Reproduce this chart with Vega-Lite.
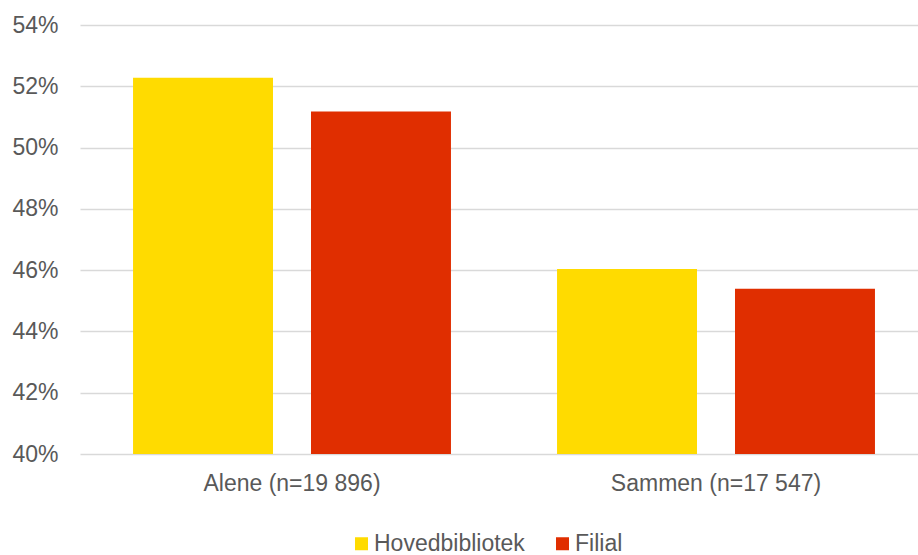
{
  "$schema": "https://vega.github.io/schema/vega-lite/v6.json",
  "width": 848,
  "height": 429,
  "autosize": {"type": "none"},
  "padding": {"left": 80, "top": 25, "right": -10, "bottom": 101},
  "background": "white",
  "config": {
    "font": "Liberation Sans",
    "view": {"stroke": null}
  },
  "data": {
    "values": [
      {"gruppe": "Alene (n=19 896)", "type": "Hovedbibliotek", "andel": 0.5228},
      {"gruppe": "Alene (n=19 896)", "type": "Filial", "andel": 0.5118},
      {"gruppe": "Sammen (n=17 547)", "type": "Hovedbibliotek", "andel": 0.4604},
      {"gruppe": "Sammen (n=17 547)", "type": "Filial", "andel": 0.4539}
    ]
  },
  "mark": {"type": "bar", "clip": true},
  "encoding": {
    "x": {
      "field": "gruppe",
      "type": "nominal",
      "sort": null,
      "scale": {"paddingInner": 0, "paddingOuter": 0},
      "axis": {
        "title": null,
        "labelAngle": 0,
        "labelFontSize": 23,
        "labelLimit": 0,
        "labelColor": "#595959",
        "labelPadding": 18,
        "domain": false,
        "ticks": false
      }
    },
    "xOffset": {
      "field": "type",
      "sort": ["Hovedbibliotek", "Filial"],
      "scale": {"paddingInner": 0.2135, "paddingOuter": 0.298}
    },
    "y": {
      "field": "andel",
      "type": "quantitative",
      "scale": {"domain": [0.4, 0.54], "nice": false, "zero": false},
      "axis": {
        "title": null,
        "values": [0.40, 0.42, 0.44, 0.46, 0.48, 0.50, 0.52, 0.54],
        "format": ".0%",
        "labelFontSize": 23,
        "labelColor": "#595959",
        "labelPadding": 22,
        "domain": false,
        "ticks": false,
        "gridColor": "#d9d9d9",
        "gridWidth": 1.5
      }
    },
    "color": {
      "field": "type",
      "type": "nominal",
      "sort": ["Hovedbibliotek", "Filial"],
      "scale": {"domain": ["Hovedbibliotek", "Filial"], "range": ["#FFDB00", "#E02E00"]},
      "legend": {
        "title": null,
        "orient": "none",
        "legendX": 270,
        "legendY": 507,
        "direction": "horizontal",
        "symbolType": "square",
        "symbolSize": 169,
        "symbolStrokeWidth": 0,
        "labelFontSize": 23,
        "labelLimit": 0,
        "labelColor": "#595959",
        "labelOffset": 1,
        "columnPadding": 26
      }
    }
  }
}
